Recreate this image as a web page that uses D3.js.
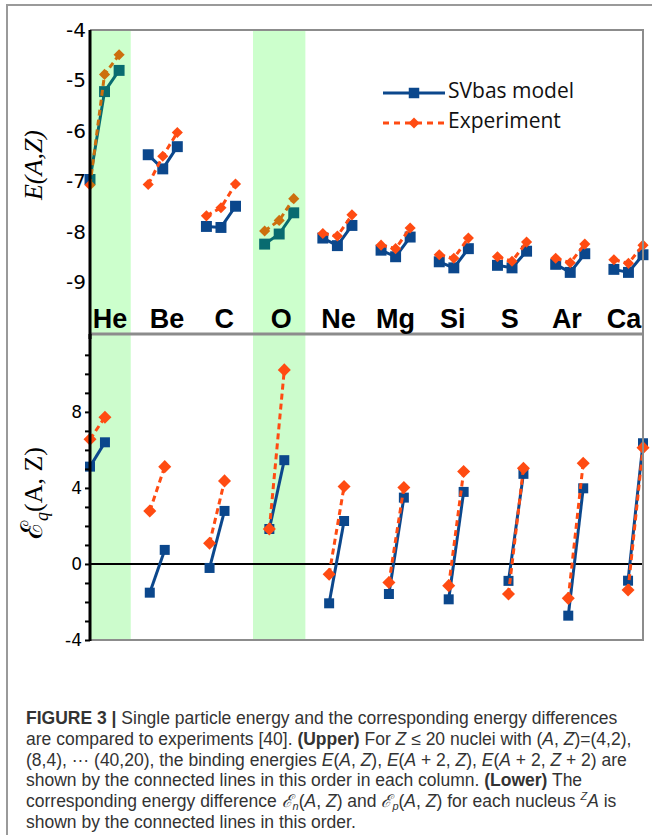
<!DOCTYPE html>
<html>
<head>
<meta charset="utf-8">
<script src="https://cdn.jsdelivr.net/npm/d3@7"></script>
<style>
  body { margin: 0; background: #fff; }
  svg { display: block; }
</style>
</head>
<body>
<div id="chart"></div>
<script>
// Nuclei shown in each column, shaded ones get the green band
const nuclei = ['He', 'Be', 'C', 'O', 'Ne', 'Mg', 'Si', 'S', 'Ar', 'Ca'];
const shaded = ['He', 'O'];

// Upper panel: E(A,Z), E(A+2,Z), E(A+2,Z+2) per column
const upperModel = [
    [-6.96, -5.22, -4.80], [-6.47, -6.75, -6.31], [-7.89, -7.91, -7.49],
    [-8.24, -8.04, -7.62], [-8.12, -8.27, -7.87], [-8.36, -8.49, -8.10],
    [-8.59, -8.71, -8.33], [-8.66, -8.71, -8.38], [-8.64, -8.80, -8.43],
    [-8.74, -8.80, -8.45]
];
const upperExp = [
    [-7.07, -4.88, -4.49], [-7.06, -6.50, -6.03], [-7.68, -7.52, -7.05],
    [-7.98, -7.77, -7.34], [-8.03, -8.08, -7.66], [-8.26, -8.33, -7.92],
    [-8.45, -8.52, -8.12], [-8.49, -8.58, -8.20], [-8.52, -8.61, -8.24],
    [-8.55, -8.62, -8.26]
];

// Lower panel: En(A,Z), Ep(A,Z) per column
const lowerModel = [
    [5.12, 6.40], [-1.51, 0.74], [-0.21, 2.79], [1.84, 5.46], [-2.07, 2.26],
    [-1.58, 3.49], [-1.86, 3.79], [-0.89, 4.74], [-2.72, 3.98], [-0.88, 6.35]
];
const lowerExp = [
    [6.56, 7.72], [2.79, 5.12], [1.09, 4.37], [1.84, 10.21], [-0.54, 4.07],
    [-0.98, 4.02], [-1.14, 4.86], [-1.58, 5.04], [-1.81, 5.30], [-1.37, 6.12]
];

const upperTicks = [-4, -5, -6, -7, -8, -9];
const lowerTicks = [8, 4, 0, -4];

const width = 652, height = 835;
const pLeft = 90, pRight = 643, pTop = 30, pMid = 334, pBottom = 640;
const blue = '#0b478c', orange = '#ff4b12';

const svg = d3.select('#chart').append('svg')
    .attr('width', width)
    .attr('height', height);

// Scales: four slots per column, three used above and two below
const xU = d3.scaleLinear().domain([0, 38]).range([pLeft, pRight]);
const xL = d3.scaleLinear().domain([0, 37]).range([pLeft, pRight]);
const yU = d3.scaleLinear().domain([-10, -4]).range([pMid - 1, pTop]);
const yL = d3.scaleLinear().domain([-4, 12.15]).range([pBottom, pMid - 1]);
const labelX = d3.scalePoint().domain(nuclei).range([110, 624]);

// Outer figure frame
svg.append('path')
    .attr('d', `M7,${height} L7,5 L${width},5`)
    .attr('fill', 'none')
    .attr('stroke', '#9a9a9a')
    .attr('stroke-width', 2);

// Green band extent in upper x units
function bandFor(name) {
    const c = nuclei.indexOf(name);
    const x0 = Math.max(pLeft, xU(c * 4 - 0.8));
    return { x: x0, w: xU(c * 4 + 2.8) - x0 };
}

// Lower bands sit behind the data
svg.append('g')
    .selectAll('rect')
    .data(shaded)
    .enter().append('rect')
    .attr('x', d => bandFor(d).x)
    .attr('width', d => bandFor(d).w)
    .attr('y', pMid)
    .attr('height', pBottom - pMid)
    .attr('fill', '#ccfccc');

// Draw one series: a connected line per column plus markers
function drawSeries(g, rows, x, y, opts) {
    const pts = rows.map((vals, c) => vals.map((v, k) => ({ i: c * 4 + k, v })));
    const line = d3.line().x(d => x(d.i)).y(d => y(d.v));

    g.append('g')
        .selectAll('path')
        .data(pts)
        .enter().append('path')
        .attr('d', line)
        .attr('fill', 'none')
        .attr('stroke', opts.color)
        .attr('stroke-width', 3)
        .attr('stroke-dasharray', opts.dash || null);

    g.append('g')
        .selectAll('path')
        .data(pts.flat())
        .enter().append('path')
        .attr('d', d3.symbol(d3.symbolSquare, opts.size))
        .attr('transform', d => `translate(${x(d.i)},${y(d.v)})` + (opts.diamond ? ' rotate(45)' : ''))
        .attr('fill', opts.color);
}

const upperG = svg.append('g');
drawSeries(upperG, upperModel, xU, yU, { color: blue, size: 120 });
drawSeries(upperG, upperExp, xU, yU, { color: orange, size: 62, diamond: true, dash: '6,4' });

// Upper bands are laid over the data, so the marks go teal there
svg.append('g')
    .selectAll('rect')
    .data(shaded)
    .enter().append('rect')
    .attr('x', d => bandFor(d).x)
    .attr('width', d => bandFor(d).w)
    .attr('y', pTop)
    .attr('height', pMid - pTop)
    .attr('fill', '#00ff00')
    .attr('opacity', 0.2);

// Zero line in lower panel
svg.append('line')
    .attr('x1', pLeft).attr('x2', pRight)
    .attr('y1', yL(0)).attr('y2', yL(0))
    .attr('stroke', '#000')
    .attr('stroke-width', 2);

const lowerG = svg.append('g');
drawSeries(lowerG, lowerModel, xL, yL, { color: blue, size: 100 });
drawSeries(lowerG, lowerExp, xL, yL, { color: orange, size: 85, diamond: true, dash: '6,4' });

// Plot frame
svg.append('path')
    .attr('d', `M${pLeft},${pTop} L${pRight},${pTop} L${pRight},${pBottom} L${pLeft},${pBottom}`)
    .attr('fill', 'none')
    .attr('stroke', '#8c8c8c')
    .attr('stroke-width', 2);
svg.append('line')
    .attr('x1', pLeft).attr('x2', pRight)
    .attr('y1', pMid).attr('y2', pMid)
    .attr('stroke', '#8c8c8c')
    .attr('stroke-width', 3);

// Nucleus labels
svg.append('g')
    .selectAll('text')
    .data(nuclei)
    .enter().append('text')
    .attr('x', d => labelX(d))
    .attr('y', 328)
    .attr('text-anchor', 'middle')
    .attr('font-family', 'Liberation Sans, Arial, sans-serif')
    .attr('font-weight', 'bold')
    .attr('font-size', '27px')
    .attr('fill', '#000')
    .text(d => d);

// Y axes (plain hyphen minus, as in the original)
const axisU = svg.append('g')
    .attr('transform', `translate(${pLeft},0)`)
    .call(d3.axisLeft(yU).tickValues(upperTicks).tickSize(0).tickPadding(4).tickFormat(d => String(d)));
axisU.select('.domain').remove();
axisU.selectAll('text')
    .attr('font-family', 'DejaVu Sans, sans-serif')
    .attr('font-size', '20px')
    .attr('fill', '#000');
svg.append('line')
    .attr('x1', pLeft).attr('x2', pLeft)
    .attr('y1', pTop).attr('y2', pMid + 5)
    .attr('stroke', '#000')
    .attr('stroke-width', 3);

const axisL = svg.append('g')
    .attr('transform', `translate(${pLeft},0)`)
    .call(d3.axisLeft(yL).tickValues(d3.range(-4, 12)).tickSize(5).tickPadding(3)
        .tickFormat(d => lowerTicks.includes(d) ? String(d) : ''));
axisL.select('.domain').remove();
axisL.selectAll('.tick line').attr('stroke', '#000').attr('stroke-width', 2);
axisL.selectAll('text')
    .attr('font-family', 'DejaVu Sans, sans-serif')
    .attr('font-size', '17px')
    .attr('fill', '#000');
svg.append('line')
    .attr('x1', pLeft).attr('x2', pLeft)
    .attr('y1', pMid).attr('y2', pBottom + 1)
    .attr('stroke', '#000')
    .attr('stroke-width', 3);

// Axis titles
svg.append('text')
    .attr('transform', 'translate(42,165) rotate(-90)')
    .attr('text-anchor', 'middle')
    .attr('font-family', 'Liberation Serif, serif')
    .attr('font-style', 'italic')
    .attr('font-size', '26px')
    .text('E(A,Z)');

const t2 = svg.append('text')
    .attr('transform', 'translate(42,493) rotate(-90)')
    .attr('text-anchor', 'middle')
    .attr('font-family', 'Liberation Serif, serif')
    .attr('font-size', '26px');
t2.append('tspan').attr('font-size', '30px').text('\u2130');
t2.append('tspan').attr('font-size', '18px').attr('dy', 6).attr('font-style', 'italic').text('q');
t2.append('tspan').attr('dy', -6).text('(A, Z)');

// Legend
const legend = svg.append('g').attr('transform', 'translate(383,0)');
legend.append('line')
    .attr('x1', 0).attr('x2', 62).attr('y1', 93).attr('y2', 93)
    .attr('stroke', blue).attr('stroke-width', 3);
legend.append('path')
    .attr('d', d3.symbol(d3.symbolSquare, 110))
    .attr('transform', 'translate(31,93)')
    .attr('fill', blue);
legend.append('line')
    .attr('x1', 0).attr('x2', 62).attr('y1', 123).attr('y2', 123)
    .attr('stroke', orange).attr('stroke-width', 3).attr('stroke-dasharray', '6,5');
legend.append('path')
    .attr('d', d3.symbol(d3.symbolSquare, 60))
    .attr('transform', 'translate(31,123) rotate(45)')
    .attr('fill', orange);
legend.selectAll('text')
    .data(['SVbas model', 'Experiment'])
    .enter().append('text')
    .attr('x', 65)
    .attr('y', (d, i) => 98 + i * 30)
    .attr('font-family', 'Open Sans, sans-serif')
    .attr('font-size', '21px')
    .attr('fill', '#111')
    .text(d => d);

// Caption: each line is a list of [text, style] pieces
const caption = [
    [['FIGURE 3 | ', 'b'], ['Single particle energy and the corresponding energy differences']],
    [['are compared to experiments [40]. '], ['(Upper)', 'b'], [' For '], ['Z', 'i'], [' \u2264 20 nuclei with ('],
     ['A', 'i'], [', '], ['Z', 'i'], [')=(4,2),']],
    [['(8,4), \u00b7\u00b7\u00b7 (40,20), the binding energies '], ['E', 'i'], ['('], ['A', 'i'], [', '], ['Z', 'i'],
     ['), '], ['E', 'i'], ['('], ['A', 'i'], [' + 2, '], ['Z', 'i'], ['), '], ['E', 'i'], ['('], ['A', 'i'],
     [' + 2, '], ['Z', 'i'], [' + 2) are']],
    [['shown by the connected lines in this order in each column. '], ['(Lower)', 'b'], [' The']],
    [['corresponding energy difference '], ['\u2130', 'i'], ['n', 'sub'], ['('], ['A', 'i'], [', '], ['Z', 'i'],
     [') and '], ['\u2130', 'i'], ['p', 'sub'], ['('], ['A', 'i'], [', '], ['Z', 'i'], [') for each nucleus '],
     ['Z', 'sup'], ['A', 'i'], [' is']],
    [['shown by the connected lines in this order.']]
];

const capG = svg.append('g')
    .attr('font-family', 'Liberation Sans, Arial, sans-serif')
    .attr('font-size', '17.5px')
    .attr('fill', '#333');
caption.forEach((pieces, li) => {
    const t = capG.append('text').attr('x', 26).attr('y', 724 + li * 20.8);
    let shift = 0;
    pieces.forEach(([txt, st]) => {
        const s = t.append('tspan').text(txt);
        let want = 0;
        if (st === 'b') s.attr('font-weight', 'bold');
        if (st === 'i') s.attr('font-style', 'italic');
        if (st === 'sub') { s.attr('font-style', 'italic').attr('font-size', '11px'); want = 3; }
        if (st === 'sup') { s.attr('font-style', 'italic').attr('font-size', '11px'); want = -7; }
        // move relative to the current baseline offset
        if (want !== shift) s.attr('dy', want - shift);
        shift = want;
    });
});
</script>
</body>
</html>
